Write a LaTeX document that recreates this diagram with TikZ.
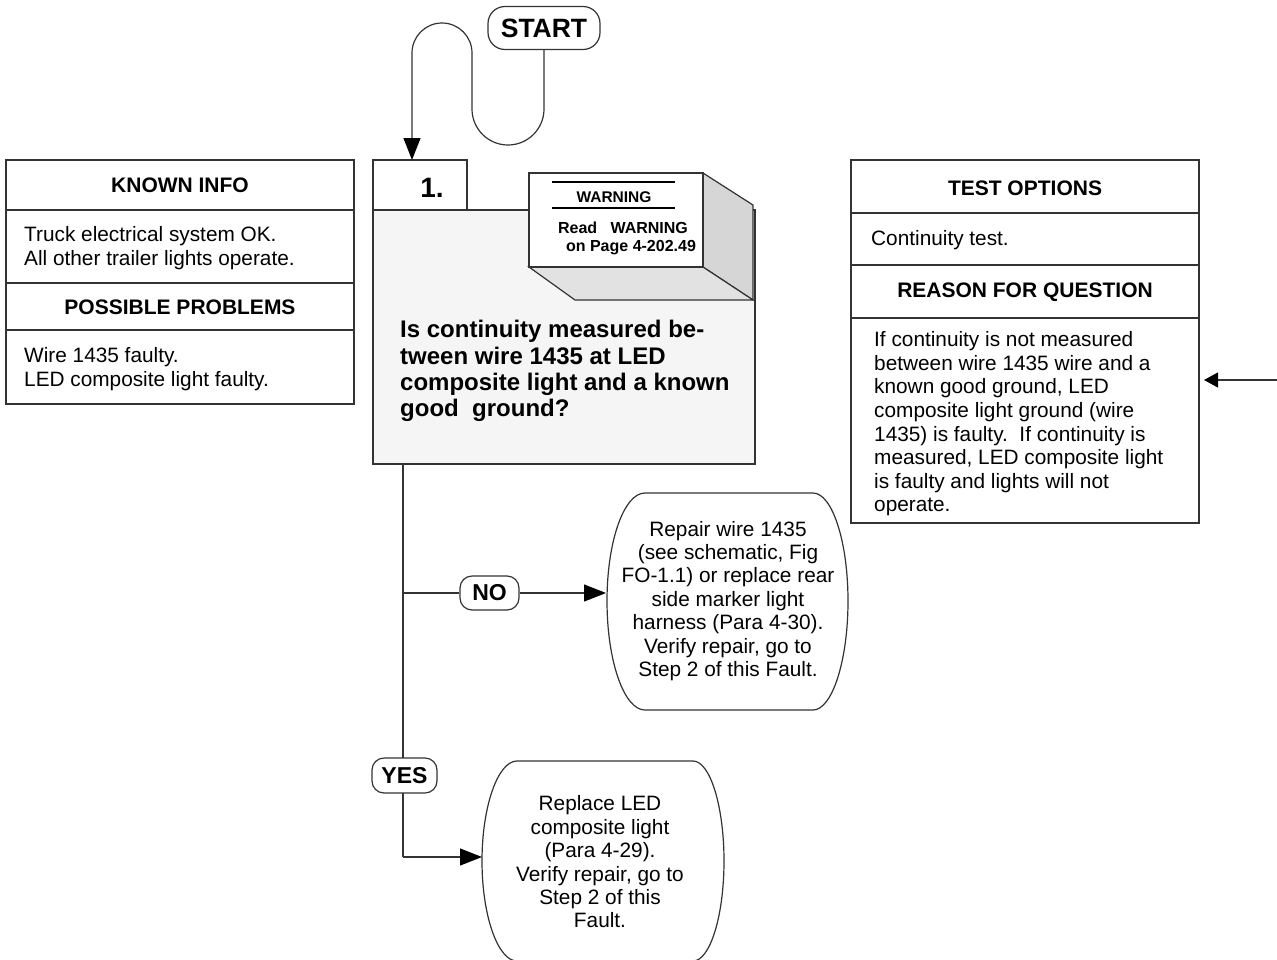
\documentclass[tikz,border=0pt]{standalone}
\usepackage{fontspec}
\setmainfont{Liberation Sans}
\usetikzlibrary{arrows.meta}
\definecolor{lc}{HTML}{333333}
\definecolor{qfill}{HTML}{F5F5F5}
\definecolor{sidea}{HTML}{D6D6D6}
\definecolor{sideb}{HTML}{E2E2E2}
\begin{document}
\begin{tikzpicture}[x=1pt,y=-1pt,
  ln/.style={draw=lc, line width=1.2pt},
  hdr/.style={font=\fontsize{21}{24}\selectfont\bfseries, inner sep=0pt},
  body/.style={font=\fontsize{20.8}{23.6}\selectfont, inner sep=0pt, align=left},
  ctext/.style={font=\fontsize{20.8}{23.4}\selectfont, inner sep=0pt, align=center},
  term/.style={draw=lc, line width=1.2pt, fill=white, inner sep=0pt, font=\fontsize{23}{26}\selectfont\bfseries},
  bigtip/.style={-{Triangle[length=22pt,width=17pt,fill=black,color=black]}},
  smalltip/.style={-{Triangle[length=14pt,width=15pt,fill=black,color=black]}}
]
\useasboundingbox (0,0) rectangle (1277,959);

% ---------- KNOWN INFO box ----------
\draw[ln] (6,160) rectangle (354,404);
\draw[ln] (6,210) -- (354,210);
\draw[ln] (6,283) -- (354,283);
\draw[ln] (6,330) -- (354,330);
\node[hdr] (ki) at (180,185) {KNOWN INFO};
\node[body, anchor=west] (kitext) at (24,248) {Truck electrical system OK.\\All other trailer lights operate.};
\node[hdr] (pp) at (180,307) {POSSIBLE PROBLEMS};
\node[body, anchor=west] (pptext) at (24,369) {Wire 1435 faulty.\\LED composite light faulty.};

% ---------- TEST OPTIONS box ----------
\draw[ln] (851,160) rectangle (1199,523);
\draw[ln] (851,213) -- (1199,213);
\draw[ln] (851,265) -- (1199,265);
\draw[ln] (851,318) -- (1199,318);
\node[hdr] (to) at (1025,188) {TEST OPTIONS};
\node[body, anchor=west] (totext) at (871,240) {Continuity test.};
\node[hdr] (rq) at (1025,292) {REASON FOR QUESTION};
\node[body, anchor=west] (rqtext) at (874,424) {If continuity is not measured\\between wire 1435 wire and a\\known good ground, LED\\composite light ground (wire\\1435) is faulty.\ \ If continuity is\\measured, LED composite light\\is faulty and lights will not\\operate.};
\coordinate (rin) at (1277,380);
\coordinate (rtip) at (1204,380);
\draw[ln, smalltip] (rin) -- (rtip);

% ---------- Step 1 box ----------
\draw[ln, fill=qfill] (373,210) rectangle (755,464);
\draw[ln, fill=white] (373,160) rectangle (467,210);
\node[font=\fontsize{28}{30}\selectfont\bfseries, inner sep=0pt] (num) at (432,188) {1.};
\node[font=\fontsize{24}{26.2}\selectfont\bfseries, inner sep=0pt, align=left, anchor=west] (q) at (400,371) {Is continuity measured be-\\tween wire 1435 at LED\\composite light and a known\\good\ \ ground?};

% warning 3D box
\draw[ln, fill=sidea] (703,173) -- (753,205) -- (753,300) -- (703,267) -- cycle;
\draw[ln, fill=sideb] (529,267) -- (575,300) -- (753,300) -- (703,267) -- cycle;
\draw[ln, fill=white] (529,173) rectangle (703,267);
\draw[draw=black, line width=2pt] (552,182) -- (675,182);
\draw[draw=black, line width=2pt] (552,208) -- (675,208);
\node[font=\fontsize{15.5}{18}\selectfont\bfseries, inner sep=0pt] (wt) at (614,197) {WARNING};
\node[font=\fontsize{16}{20}\selectfont\bfseries, inner sep=0pt] (w1) at (623,228) {Read\ \ \ WARNING};
\node[font=\fontsize{16}{20}\selectfont\bfseries, inner sep=0pt] (w2) at (631,248) {on Page 4-202.49};

% ---------- START ----------
\node[term, minimum width=112pt, minimum height=43pt, rounded corners=17pt, font=\fontsize{26.5}{28}\selectfont\bfseries] (start) at (544,28) {START};
\coordinate (tabin) at (412,160);
\draw[ln, bigtip] (start.south) -- (544,109) arc[start angle=0, end angle=180, radius=36] -- (472,53) arc[start angle=0, end angle=-180, radius=30] -- (tabin);

% ---------- repair boxes ----------
\draw[ln, fill=white] (645,493) -- (813,493) .. controls (832,493) and (848,541) .. (848,601) .. controls (848,661) and (832,710) .. (813,710) -- (645,710) .. controls (624,710) and (607,661) .. (607,601) .. controls (607,541) and (624,493) .. (645,493) -- cycle;
\node[ctext] (rep1) at (728,601) {Repair wire 1435\\(see schematic, Fig\\FO-1.1) or replace rear\\side marker light\\harness (Para 4-30).\\Verify repair, go to\\Step 2 of this Fault.};
\coordinate (rep1w) at (606,593);

\draw[ln, fill=white] (517,761) -- (693,761) .. controls (710,761) and (724,806) .. (724,861) .. controls (724,916) and (710,961) .. (693,961) -- (517,961) .. controls (498,961) and (482,916) .. (482,861) .. controls (482,806) and (498,761) .. (517,761) -- cycle;
\node[ctext] (rep2) at (600,862) {Replace LED\\composite light\\(Para 4-29).\\Verify repair, go to\\Step 2 of this\\Fault.};
\coordinate (rep2w) at (482,857);

% ---------- flow lines ----------
\coordinate (qout) at (403,464);
\coordinate (nobr) at (403,593);
\coordinate (yesbr) at (403,857);
\draw[ln] (qout) -- (yesbr);
\node[term, minimum width=59pt, minimum height=34pt, rounded corners=12pt] (no) at (489.5,593) {NO};
\node[term, minimum width=65pt, minimum height=35pt, rounded corners=12pt] (yes) at (404.5,775.5) {YES};
\draw[ln] (nobr) -- (no.west);
\draw[ln, bigtip] (no.east) -- (rep1w);
\draw[ln, bigtip] (yesbr) -- (rep2w);
\end{tikzpicture}
\end{document}
